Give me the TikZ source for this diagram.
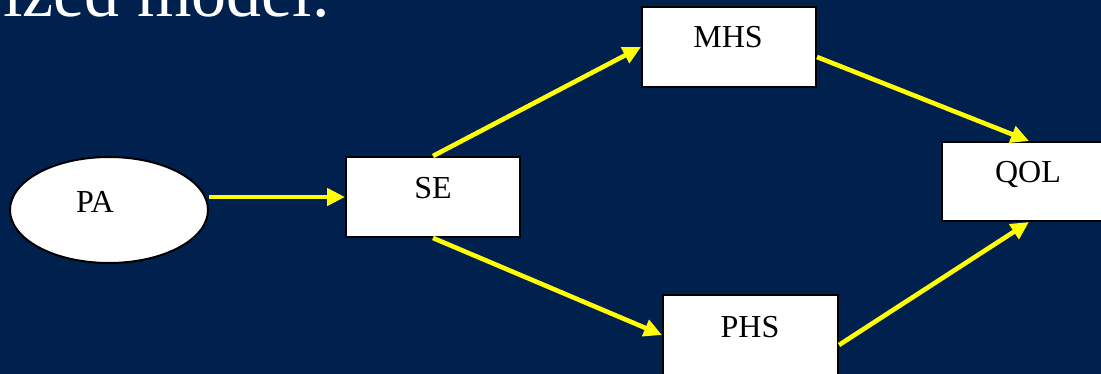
\documentclass[tikz,border=0pt]{standalone}
\usepackage{fontspec}
\setmainfont{Liberation Serif}
\usetikzlibrary{arrows.meta,shapes.geometric}
\definecolor{navy}{RGB}{0,33,78}
\definecolor{arrowyellow}{RGB}{255,255,0}
\tikzset{
  box/.style={draw=black, line width=2pt, fill=white, rectangle,
    minimum width=174pt, minimum height=80pt, inner sep=0pt},
  oval/.style={draw=black, line width=2pt, fill=white, ellipse,
    minimum width=198pt, minimum height=106pt, inner sep=0pt},
  lbl/.style={anchor=base, inner sep=0pt, text=black,
    font=\fontsize{32}{38}\selectfont},
  link/.style={draw=arrowyellow, line width=4.6pt,
    -{Triangle[length=18pt,width=17pt]}, fill=arrowyellow},
}
\begin{document}
\begin{tikzpicture}[x=1pt,y=-1pt]
  \fill[navy] (0,0) rectangle (1101,374);
  \useasboundingbox (0,0) rectangle (1101,374);
  \clip (0,0) rectangle (1101,374);

  % heading, partly above the frame
  \node[anchor=base west, inner sep=0pt, text=white,
        font=\fontsize{70}{80}\selectfont] (title) at (3,17) {ized model.};

  % variables
  \node[oval] (PA)  at (109,210) {};
  \node[box]  (SE)  at (433,197) {};
  \node[box]  (MHS) at (729,47) {};
  \node[box, minimum height=79pt] (QOL) at (1029,181.5) {};
  \node[box, minimum width=175pt] (PHS) at (750.5,335) {};

  \node[lbl] (PAt)  at (95,213)  {PA};
  \node[lbl] (SEt)  at (433,199) {SE};
  \node[lbl] (MHSt) at (728,48)  {MHS};
  \node[lbl] (QOLt) at (1028,183) {QOL};
  \node[lbl] (PHSt) at (750,337) {PHS};

  % paths
  \draw[link] (PA.east |- SE.west) -- (SE.west);
  \draw[link] (SE.north) -- (MHS.west);
  \draw[link] ([yshift=-10pt]MHS.east) -- (QOL.north);
  \draw[link] (SE.south) -- (PHS.west);
  \draw[link] ([yshift=-10pt]PHS.east) -- (QOL.south);
\end{tikzpicture}
\end{document}
